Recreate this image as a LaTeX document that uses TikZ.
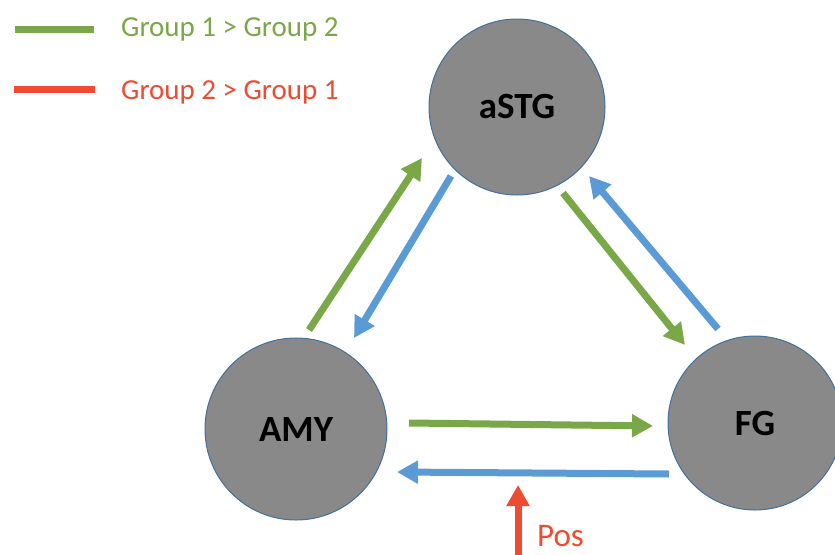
\documentclass[tikz,border=0pt]{standalone}
\usepackage{fontspec}
\setmainfont{Carlito}
\usetikzlibrary{arrows.meta,calc}

\definecolor{grpgreen}{RGB}{122,167,72}
\definecolor{grpred}{RGB}{238,75,48}
\definecolor{linkblue}{RGB}{91,155,213}
\definecolor{regionfill}{RGB}{137,137,137}
\definecolor{regionedge}{RGB}{65,113,156}

\tikzset{
  region/.style={circle, fill=regionfill, draw=regionedge, line width=1pt,
    inner sep=0pt, font=\fontsize{37}{40}\selectfont\bfseries, text=black},
  link/.style={line width=7pt, -{Triangle[length=21pt,width=22pt]}},
  legendline/.style={line width=7pt},
  legendtext/.style={anchor=west, inner sep=0pt, font=\fontsize{29}{32}\selectfont}
}

\begin{document}
\begin{tikzpicture}[x=1pt,y=-1pt]
  \useasboundingbox (0,0) rectangle (835,554);
  \clip (0,0) rectangle (835,554);

  % brain regions
  \node[region, minimum size=176pt] (aSTG) at (517,107) {\raisebox{-3pt}{aSTG}};
  \node[region, minimum size=182pt] (AMY)  at (296,429) {AMY};
  \node[region, minimum size=174pt] (FG)   at (755,423) {\raisebox{-2pt}{FG}};

  % legend
  \coordinate (lg1a) at (15,29);  \coordinate (lg1b) at (94,29);
  \coordinate (lg2a) at (14,89);  \coordinate (lg2b) at (95,89);
  \draw[legendline, grpgreen] (lg1a) -- (lg1b);
  \draw[legendline, grpred]   (lg2a) -- (lg2b);
  \node[legendtext, text=grpgreen] (lt1) at (121,29) {Group 1 > Group 2};
  \node[legendtext, text=grpred]   (lt2) at (121,92) {Group 2 > Group 1};

  % AMY <-> aSTG
  \draw[link, grpgreen]  ($(AMY)+(13,-99)$)  -- ($(aSTG)+(-95,51)$);
  \draw[link, linkblue]  ($(aSTG)+(-66,69)$) -- ($(AMY)+(58,-91)$);

  % aSTG <-> FG
  \draw[link, grpgreen]  ($(aSTG)+(46,86)$)  -- ($(FG)+(-70,-78)$);
  \draw[link, linkblue]  ($(FG)+(-37,-94)$)  -- ($(aSTG)+(72,69)$);

  % AMY <-> FG
  \draw[link, grpgreen]  ($(AMY)+(113,-6)$)  -- ($(FG)+(-102,3)$);
  \draw[link, linkblue]  ($(FG)+(-86,51)$)   -- ($(AMY)+(101,43)$);

  % positive modulation input
  \coordinate (posbase) at (518,560);
  \coordinate (postip)  at (518,485);
  \draw[link, grpred] (posbase) -- (postip);
  \node[anchor=west, inner sep=0pt, text=grpred,
        font=\fontsize{33}{36}\selectfont] (pos) at (537,536) {Pos};
\end{tikzpicture}
\end{document}
